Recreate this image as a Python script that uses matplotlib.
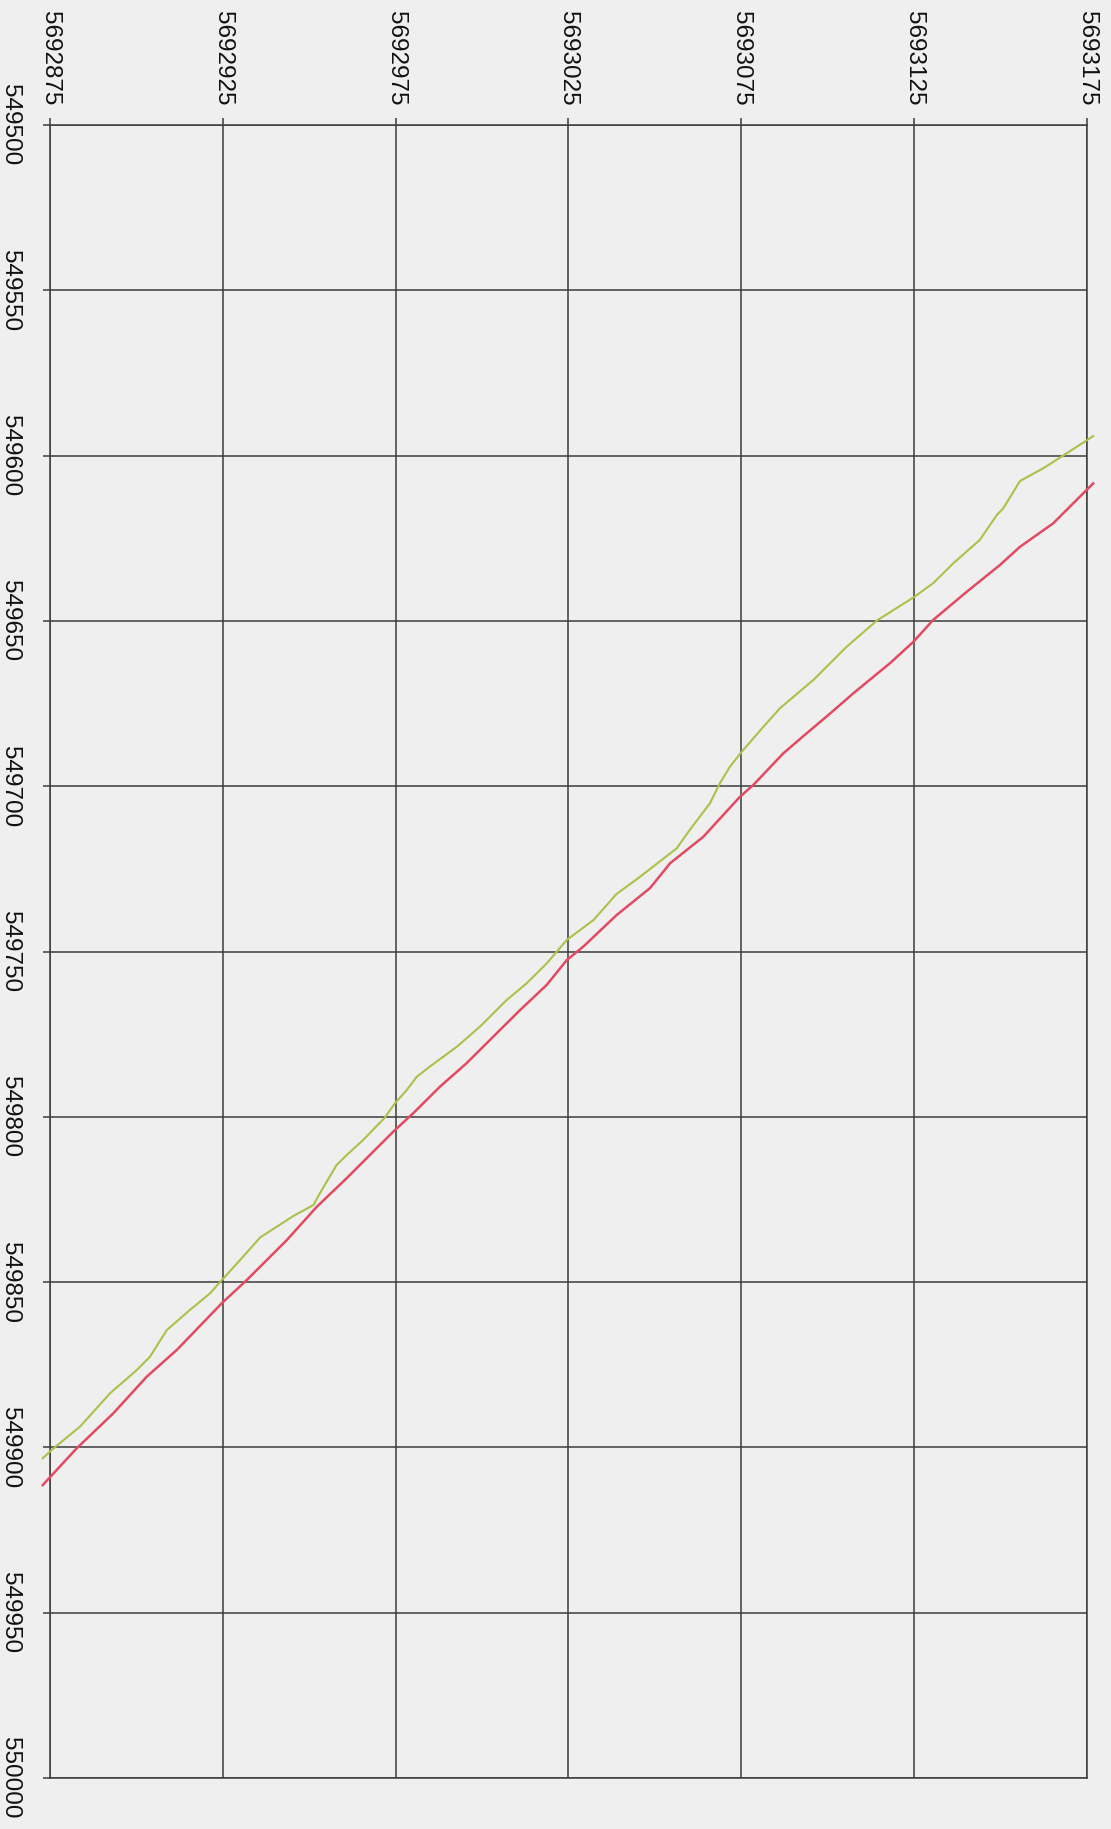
import matplotlib
matplotlib.use("Agg")
import matplotlib.pyplot as plt

# Tick values
northing_ticks = [5692875, 5692925, 5692975, 5693025, 5693075, 5693125, 5693175]
easting_ticks = [549500, 549550, 549600, 549650, 549700, 549750, 549800,
                 549850, 549900, 549950, 550000]

# Green track (northing, easting)
green_n = [5692872.9, 5692876.0, 5692883.7, 5692892.4, 5692900.1, 5692903.9, 5692908.8,
           5692915.5, 5692921.3, 5692924.7, 5692930.0, 5692935.8, 5692945.4, 5692951.2,
           5692953.1, 5692957.9, 5692960.8, 5692965.6, 5692971.9, 5692974.8, 5692978.2,
           5692981.1, 5692984.9, 5692992.7, 5692999.4, 5693007.1, 5693012.9, 5693018.7,
           5693024.5, 5693032.2, 5693038.9, 5693045.7, 5693056.3, 5693060.1, 5693065.9,
           5693068.8, 5693071.7, 5693075.1, 5693081.4, 5693086.2, 5693095.8, 5693105.5,
           5693114.2, 5693124.8, 5693130.5, 5693136.3, 5693144.0, 5693148.9, 5693150.8,
           5693155.6, 5693162.4, 5693168.1, 5693176.8]
green_e = [549903.3, 549900.3, 549893.7, 549883.6, 549876.6, 549872.6, 549864.5,
           549858.4, 549853.4, 549849.4, 549843.3, 549836.5, 549830.0, 549826.7,
           549823.1, 549814.6, 549811.6, 549807.0, 549800.2, 549795.9, 549791.9,
           549787.9, 549784.8, 549778.8, 549772.7, 549764.7, 549759.6, 549753.6,
           549746.5, 549740.5, 549732.6, 549727.4, 549718.8, 549713.2, 549705.2,
           549699.1, 549694.1, 549689.6, 549682.0, 549676.4, 549667.9, 549657.8,
           549649.9, 549642.9, 549638.6, 549632.6, 549625.5, 549618.0, 549615.9,
           549607.7, 549603.8, 549600.0, 549594.1]

# Red track (northing, easting)
red_n = [5692872.9, 5692882.7, 5692893.3, 5692903.0, 5692911.7, 5692924.7, 5692931.9,
         5692943.5, 5692952.2, 5692960.8, 5692974.3, 5692980.1, 5692987.8, 5692995.5,
         5693003.2, 5693011.0, 5693018.7, 5693024.5, 5693029.3, 5693038.9, 5693048.6,
         5693054.4, 5693064.0, 5693074.6, 5693078.5, 5693087.1, 5693093.9, 5693100.7,
         5693107.4, 5693118.0, 5693124.8, 5693130.5, 5693140.2, 5693149.8, 5693155.6,
         5693165.2, 5693176.8]
red_e = [549911.4, 549900.3, 549889.7, 549878.6, 549870.5, 549856.4, 549849.4,
         549837.3, 549827.2, 549818.6, 549804.5, 549798.9, 549790.9, 549783.8,
         549775.8, 549767.7, 549760.1, 549752.6, 549748.5, 549739.0, 549730.8,
         549723.3, 549715.3, 549703.2, 549699.6, 549690.1, 549684.0, 549678.0,
         549671.9, 549662.8, 549656.3, 549649.7, 549641.2, 549633.1, 549627.6,
         549620.5, 549608.4]

plt.rcParams['font.family'] = ['Liberation Sans', 'DejaVu Sans']
bg = '#efefef'
gridc = '#3c3c3c'

fig = plt.figure(figsize=(11.11, 18.29), dpi=100, facecolor=bg)
ax = fig.add_axes([0.045, 0.02788, 0.9334, 0.90378])
ax.set_facecolor(bg)

ax.plot(green_n, green_e, color='#a9c24a', lw=1.5, clip_on=False, zorder=3)
ax.plot(red_n, red_e, color='#e24a62', lw=1.8, clip_on=False, zorder=3)

ax.set_xlim(northing_ticks[0], northing_ticks[-1])
ax.set_ylim(easting_ticks[-1], easting_ticks[0])
ax.set_xticks(northing_ticks)
ax.set_xticklabels([str(v) for v in northing_ticks], rotation=270, fontsize=17.5, color='#111111')
ax.set_yticks(easting_ticks)
ax.set_yticklabels([str(v) for v in easting_ticks], rotation=270, fontsize=17.5, color='#111111',
                   va='center')
ax.xaxis.tick_top()
ax.tick_params(axis='x', direction='out', length=5, width=1.1, color=gridc, pad=9)
ax.tick_params(axis='y', direction='out', length=5, width=1.1, color=gridc, pad=16)
ax.grid(True, color=gridc, lw=1.1)
ax.set_axisbelow(True)
for s in ax.spines.values():
    s.set_color(gridc)
    s.set_linewidth(1.1)

fig.savefig('out.png', dpi=100, facecolor=bg)
